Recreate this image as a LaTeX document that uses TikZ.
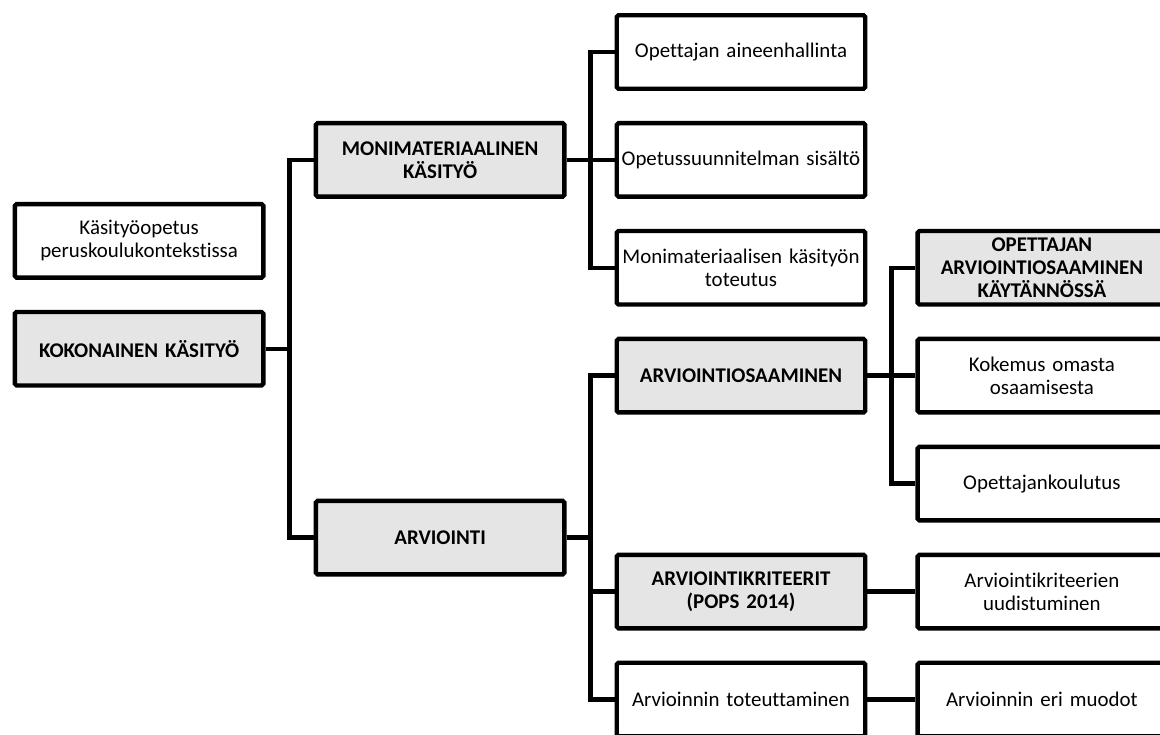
\documentclass[tikz,border=0pt]{standalone}
\usepackage{fontspec}
\setmainfont{Carlito}[Ligatures=NoCommon]
\usetikzlibrary{positioning,calc}

\begin{document}
\begin{tikzpicture}[node distance=0.6cm and 0.96cm, line width=2.5pt, box/.style={rectangle, draw, rounded corners=1pt, minimum width=4.97cm, minimum height=1.47cm, text width=4.9cm, inner sep=0pt, align=center, font=\fontsize{11.9}{13.2}\selectfont}, main node/.style={box, fill=black!10, font=\fontsize{11.9}{13.2}\selectfont\bfseries}, link/.style={to path={-- ++(0.48,0) |- (\tikztotarget)}}]

                \useasboundingbox (0,0) rectangle (23.2,-14.7);

                \node[box] (1) at (14.82,-1.04) {Opettajan aineenhallinta};
                \node[box] (2)[below = of 1] {Opetussuunnitelman sisältö};
                \node[box] (3)[below = of 2] {Monimateriaalisen käsityön\\toteutus};
                \node[main node] (4)[below = of 3] {ARVIOINTIOSAAMINEN};
                \node[main node] (5)[below = of 4, yshift = -2.16cm] {ARVIOINTIKRITEERIT\\(POPS 2014)};
                \node[box] (6)[below = of 5] {Arvioinnin toteuttaminen};

                \node[main node] (7)[right = of 3] {OPETTAJAN\\ARVIOINTIOSAAMINEN\\KÄYTÄNNÖSSÄ};
                \node[box] (8)[right = of 4] {Kokemus omasta\\osaamisesta};
                \node[box] (9)[below = of 8] {Opettajankoulutus};
                \node[box] (10)[right = of 5] {Arviointikriteerien\\uudistuminen};
                \node[box] (11)[right = of 6] {Arvioinnin eri muodot};

                \node[main node] (12)[left = of 2] {MONIMATERIAALINEN\\KÄSITYÖ};
                \node[main node] (13)[left = of 5, yshift = 1.08cm] {ARVIOINTI};

                \node[main node] (14) at ($(12)!0.5!(13)$) [xshift = -6.02cm] {KOKONAINEN KÄSITYÖ};
                \node[box] (15)[above = of 14] {Käsityöopetus\\peruskoulukontekstissa};

                \path[draw]
                    (14.east) edge[link] (12.west)
                    (14.east) edge[link] (13.west)
                    (12.east) edge[link] (1.west)
                    (12.east) edge[link] (2.west)
                    (12.east) edge[link] (3.west)
                    (13.east) edge[link] (4.west)
                    (13.east) edge[link] (5.west)
                    (13.east) edge[link] (6.west)
                    (4.east) edge[link] (7.west)
                    (4.east) edge[link] (8.west)
                    (4.east) edge[link] (9.west)
                    (5.east) edge[link] (10.west)
                    (6.east) edge[link] (11.west)
                ;
            \end{tikzpicture}
\end{document}
